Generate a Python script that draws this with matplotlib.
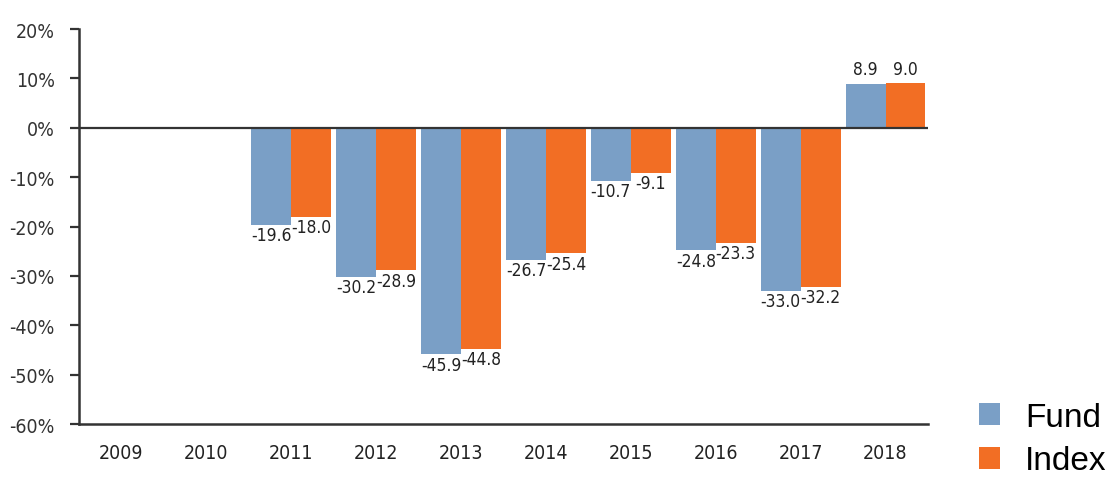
import numpy as np
import matplotlib.pyplot as plt

years = ['2009', '2010', '2011', '2012', '2013', '2014', '2015', '2016', '2017', '2018']
fund = [np.nan, np.nan, -19.6, -30.2, -45.9, -26.7, -10.7, -24.8, -33.0, 8.9]
index = [np.nan, np.nan, -18.0, -28.9, -44.8, -25.4, -9.1, -23.3, -32.2, 9.0]
yticks = [-60, -50, -40, -30, -20, -10, 0, 10, 20]

c_fund = '#7a9fc6'
c_index = '#f26e24'
txt = dict(family='DejaVu Sans', fontstretch='condensed')

fig = plt.figure(figsize=(11.16, 4.81), dpi=100)
ax = fig.add_axes([0.0708, 0.1164, 0.7607, 0.8212])

x = np.arange(len(years))
w = 0.47
b1 = ax.bar(x - w / 2, fund, w, color=c_fund, label='Fund')
b2 = ax.bar(x + w / 2, index, w, color=c_index, label='Index')

for bars, vals in ((b1, fund), (b2, index)):
    for rect, v in zip(bars, vals):
        if np.isnan(v):
            continue
        cx = rect.get_x() + rect.get_width() / 2
        if v < 0:
            ax.annotate(f'{v:.1f}', (cx, v), xytext=(0, -1), textcoords='offset points',
                        ha='center', va='top', fontsize=12.5, color='#222222', **txt)
        else:
            ax.annotate(f'{v:.1f}', (cx, v), xytext=(0, 4), textcoords='offset points',
                        ha='center', va='bottom', fontsize=12.5, color='#222222', **txt)

ax.axhline(0, color='#333333', lw=1.6, zorder=3)
ax.set_xlim(-0.5, len(years) - 0.5)
ax.set_ylim(-60, 20)
ax.set_yticks(yticks)
ax.set_yticklabels([f'{t}%' for t in yticks], fontsize=14, color='#333333', **txt)
ax.set_xticks(x)
ax.set_xticklabels(years, fontsize=14, color='#222222', **txt)
ax.tick_params(axis='x', length=0, pad=14)
ax.tick_params(axis='y', length=6.5, width=1.6, color='#333333', pad=11)

for s in ('top', 'right'):
    ax.spines[s].set_visible(False)
for s in ('left', 'bottom'):
    ax.spines[s].set_linewidth(1.8)
    ax.spines[s].set_color('#333333')

fig.legend(handles=[b1, b2], loc='lower left', bbox_to_anchor=(0.85, -0.055),
           frameon=False, prop={'family': 'Liberation Sans', 'size': 24},
           handlelength=0.65, handleheight=0.65, handletextpad=0.75, labelspacing=0.38)

fig.savefig('out.png', dpi=100)
